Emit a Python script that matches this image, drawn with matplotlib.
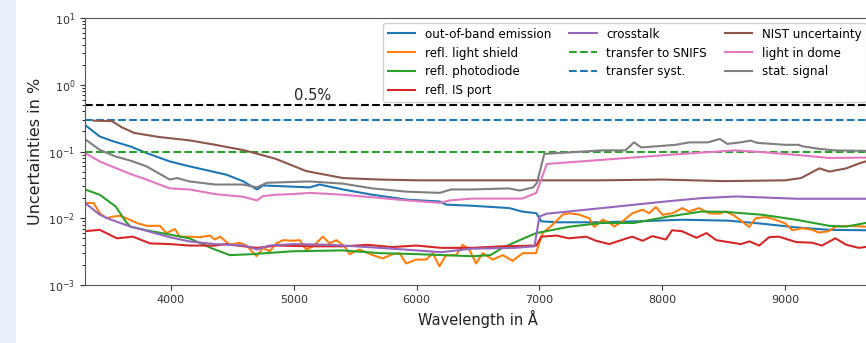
import numpy as np
import matplotlib
matplotlib.use("Agg")
import matplotlib.pyplot as plt
from matplotlib.patches import Rectangle

# values (wavelength in Angstrom, uncertainty in %)
wl_oob = [3300, 3420, 3530, 3670, 3800, 3990, 4150, 4340, 4450, 4585, 4700, 4750,
          4940, 5130, 5210, 5400, 5640, 5920, 6190, 6240, 6450, 6755, 6860, 6975,
          7015, 7140, 7500, 7800, 8160, 8540, 8810, 9090, 9360, 9700]
oob = [0.25, 0.168, 0.142, 0.119, 0.095, 0.071, 0.060, 0.050, 0.045, 0.036, 0.027, 0.031,
       0.030, 0.029, 0.032, 0.027, 0.0225, 0.019, 0.0178, 0.016, 0.0154, 0.0142, 0.0126, 0.0119,
       0.0090, 0.0087, 0.0087, 0.0090, 0.0095, 0.0092, 0.0083, 0.0073, 0.0067, 0.0066]

wl_shield = [3300, 3370, 3420, 3476, 3530, 3585, 3666, 3720, 3802, 3910, 3964, 4032,
             4072, 4154, 4235, 4316, 4357, 4400, 4479, 4560, 4615, 4696, 4750, 4804,
             4858, 4912, 4994, 5048, 5102, 5156, 5237, 5292, 5346, 5414, 5454, 5536,
             5644, 5725, 5807, 5861, 5915, 5997, 6078, 6132, 6186, 6240, 6322, 6376,
             6430, 6484, 6538, 6620, 6701, 6782, 6864, 6972, 7026, 7107, 7189, 7243,
             7324, 7406, 7446, 7514, 7568, 7609, 7677, 7758, 7839, 7893, 7948, 8002,
             8083, 8164, 8219, 8300, 8381, 8463, 8517, 8585, 8625, 8707, 8761, 8842,
             8923, 9005, 9059, 9140, 9221, 9276, 9357, 9411, 9520, 9700]
shield = [0.0169, 0.0169, 0.0119, 0.0100, 0.0106, 0.0109, 0.0095, 0.0085, 0.0077, 0.0077, 0.0060, 0.0069,
          0.0053, 0.0053, 0.0052, 0.0055, 0.0048, 0.0053, 0.0040, 0.0043, 0.0039, 0.0027, 0.0036, 0.0032,
          0.0042, 0.0047, 0.0046, 0.0047, 0.0034, 0.0038, 0.0053, 0.0042, 0.0047, 0.0038, 0.0029, 0.0034,
          0.0028, 0.0025, 0.0029, 0.0030, 0.0021, 0.0024, 0.0024, 0.0030, 0.0019, 0.0028, 0.0028, 0.0040,
          0.0034, 0.0021, 0.0030, 0.0024, 0.0028, 0.0023, 0.0030, 0.0030, 0.0060, 0.0080, 0.0113, 0.0119,
          0.0113, 0.0100, 0.0074, 0.0095, 0.0087, 0.0075, 0.0090, 0.0119, 0.0134, 0.0119, 0.0147, 0.0113,
          0.0119, 0.0142, 0.0126, 0.0142, 0.0119, 0.0117, 0.0126, 0.0110, 0.0097, 0.0074, 0.0100, 0.0104,
          0.0095, 0.0083, 0.0066, 0.0071, 0.0067, 0.0061, 0.0064, 0.0075, 0.0077, 0.0074]

wl_pd = [3300, 3420, 3550, 3630, 3670, 3800, 3990, 4150, 4340, 4480, 4660, 4990,
         5400, 5700, 6000, 6450, 6600, 6700, 6850, 6975, 7250, 7510, 7770, 8050,
         8320, 8500, 8810, 9090, 9360, 9500, 9700]
pd_refl = [0.027, 0.0225, 0.015, 0.009, 0.0075, 0.0066, 0.0057, 0.005, 0.0035, 0.0028, 0.0029, 0.0032,
           0.0033, 0.0030, 0.0029, 0.0027, 0.0028, 0.0036, 0.0048, 0.0060, 0.0075, 0.0085, 0.0085, 0.0106,
           0.0126, 0.0125, 0.0113, 0.0095, 0.0077, 0.0075, 0.0088]

wl_port = [3300, 3420, 3560, 3690, 3830, 3990, 4150, 4360, 4450, 4590, 4700, 4860,
           5130, 5400, 5600, 5800, 6000, 6200, 6450, 6700, 6975, 7015, 7140, 7240,
           7380, 7460, 7570, 7650, 7755, 7840, 7920, 8030, 8080, 8160, 8280, 8360,
           8440, 8570, 8640, 8710, 8790, 8870, 8950, 9090, 9220, 9300, 9410, 9500,
           9600, 9700]
port = [0.0064, 0.0067, 0.0050, 0.0053, 0.0042, 0.0041, 0.0039, 0.0039, 0.0041, 0.0038, 0.0036, 0.0039,
        0.0038, 0.0038, 0.0040, 0.0037, 0.0039, 0.0036, 0.0036, 0.0038, 0.0039, 0.0053, 0.0055, 0.0050,
        0.0053, 0.0046, 0.0041, 0.0046, 0.0053, 0.0046, 0.0054, 0.0048, 0.0066, 0.0064, 0.0051, 0.0060,
        0.0047, 0.0043, 0.0041, 0.0045, 0.0039, 0.0052, 0.0053, 0.0044, 0.0043, 0.0039, 0.0050, 0.0040,
        0.0036, 0.0038]

wl_xtalk = [3300, 3420, 3500, 3670, 3800, 3990, 4150, 4360, 4600, 4700, 4800, 5000,
            5300, 5600, 5900, 6200, 6450, 6800, 6960, 7000, 7060, 7510, 8050, 8320,
            8600, 9100, 9700]
xtalk = [0.017, 0.0113, 0.0097, 0.0075, 0.0065, 0.0052, 0.0045, 0.0041, 0.0039, 0.0034, 0.0039, 0.0041,
         0.0040, 0.0037, 0.0034, 0.0031, 0.0035, 0.0036, 0.0038, 0.0106, 0.0117, 0.0142, 0.018, 0.020,
         0.0212, 0.0196, 0.0196]

wl_nist = [3370, 3520, 3600, 3700, 3900, 4150, 4350, 4600, 4850, 5100, 5400, 5700,
           6000, 6500, 7000, 7500, 8000, 8500, 9000, 9130, 9280, 9360, 9500, 9600, 9700]
nist = [0.29, 0.285, 0.23, 0.19, 0.165, 0.147, 0.127, 0.104, 0.078, 0.051, 0.040, 0.038,
        0.037, 0.037, 0.037, 0.037, 0.038, 0.036, 0.037, 0.040, 0.056, 0.050, 0.056, 0.066, 0.075]

wl_dome = [3300, 3420, 3550, 3670, 3800, 3990, 4150, 4360, 4585, 4700, 4750, 4860,
           4990, 5130, 5400, 5640, 5920, 6190, 6270, 6450, 6860, 6975, 7060, 7510,
           8050, 8590, 8810, 9090, 9360, 9700]
dome = [0.095, 0.071, 0.0565, 0.046, 0.038, 0.028, 0.027, 0.023, 0.021, 0.0185, 0.0215, 0.0225,
        0.023, 0.024, 0.0225, 0.0206, 0.0185, 0.017, 0.0185, 0.0197, 0.0197, 0.024, 0.065, 0.075,
        0.089, 0.104, 0.098, 0.089, 0.080, 0.081]

wl_stat = [3300, 3420, 3550, 3670, 3800, 3990, 4050, 4150, 4360, 4585, 4700, 4780,
           4990, 5130, 5400, 5640, 5920, 6190, 6280, 6450, 6750, 6840, 6950, 6980,
           7040, 7510, 7700, 7770, 7830, 8110, 8220, 8370, 8470, 8530, 8650, 8720,
           8770, 9000, 9110, 9140, 9270, 9400, 9700]
stat = [0.153, 0.106, 0.084, 0.073, 0.060, 0.038, 0.040, 0.0356, 0.032, 0.032, 0.029, 0.034,
        0.035, 0.0356, 0.033, 0.028, 0.025, 0.024, 0.027, 0.027, 0.028, 0.026, 0.029, 0.034,
        0.092, 0.104, 0.104, 0.137, 0.115, 0.126, 0.137, 0.137, 0.154, 0.130, 0.138, 0.146,
        0.135, 0.126, 0.126, 0.120, 0.110, 0.104, 0.102]

transfer_snifs = 0.1
transfer_syst = 0.3
target = 0.5

fig = plt.figure(figsize=(8.66, 3.43), dpi=100)
fig.patches.append(Rectangle((0, 0), 15 / 866, 1, transform=fig.transFigure,
                             color='#e7eff8', zorder=0))
ax = fig.add_axes([85 / 866, 58 / 343, 786 / 866, 267 / 343])

ax.plot(wl_oob, oob, color='C0', lw=1.5, label='out-of-band emission')
ax.plot(wl_shield, shield, color='C1', lw=1.5, label='refl. light shield')
ax.plot(wl_pd, pd_refl, color='C2', lw=1.5, label='refl. photodiode')
ax.plot(wl_port, port, color='C3', lw=1.5, label='refl. IS port')
ax.plot(wl_xtalk, xtalk, color='C4', lw=1.5, label='crosstalk')
ax.axhline(transfer_snifs, color='C2', ls='--', lw=1.5, label='transfer to SNIFS')
ax.axhline(transfer_syst, color='C0', ls='--', lw=1.5, label='transfer syst.')
ax.plot(wl_nist, nist, color='C5', lw=1.5, label='NIST uncertainty')
ax.plot(wl_dome, dome, color='C6', lw=1.5, label='light in dome')
ax.plot(wl_stat, stat, color='C7', lw=1.5, label='stat. signal')
ax.axhline(target, color='k', ls='--', lw=1.5)
ax.text(5000, 0.53, '0.5%', fontsize=10.5, va='bottom', color='#222222')

ax.set_yscale('log')
ax.set_ylim(1e-3, 10)
ax.set_xlim(3300, 9700)
ax.set_xticks([4000, 5000, 6000, 7000, 8000, 9000])
ax.tick_params(labelsize=8, colors='#333333')
ax.set_xlabel('Wavelength in Å', fontsize=10.5, color='#222222')
ax.set_ylabel('Uncertainties in %', fontsize=11.5, color='#222222')
for s in ax.spines.values():
    s.set_color('#555555')

ax.legend(ncol=3, loc='upper right', fontsize=8.6, framealpha=0.9,
          handlelength=2.3, labelspacing=0.5, columnspacing=1.5,
          borderaxespad=0.4)

fig.savefig('out.png', dpi=100)
